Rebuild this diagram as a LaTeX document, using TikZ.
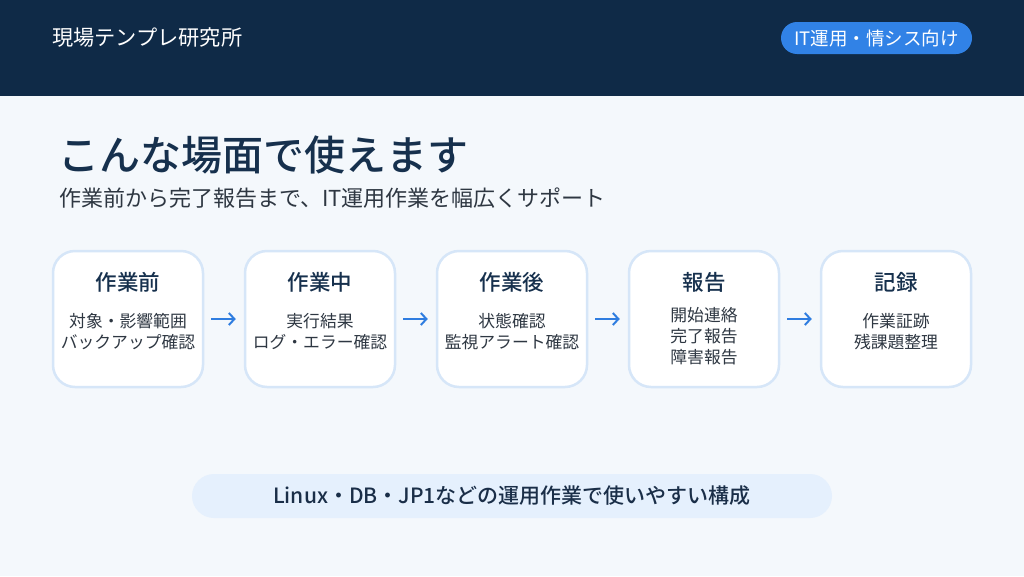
\documentclass[tikz,border=0pt]{standalone}
\usepackage{fontspec}
\setmainfont{Noto Sans CJK JP}
\newfontfamily\jpmed{Noto Sans CJK JP Medium}
\usetikzlibrary{arrows.meta}
\definecolor{navy}{HTML}{0F2A47}
\definecolor{bgc}{HTML}{F4F8FC}
\definecolor{badgec}{HTML}{3182E6}
\definecolor{titlec}{HTML}{16304D}
\definecolor{subc}{HTML}{2E3742}
\definecolor{boxline}{HTML}{D6E6F8}
\definecolor{arrc}{HTML}{2F7DE0}
\definecolor{pillc}{HTML}{E5F0FD}
\definecolor{pilltext}{HTML}{1A2E48}
\tikzset{
  stepbox/.style={draw=boxline, line width=2.5pt, fill=white, rounded corners=22pt,
    minimum width=150pt, minimum height=136pt, inner sep=0pt},
  head/.style={text=titlec, font=\fontsize{21.5}{25}\selectfont\jpmed, inner sep=0pt},
  body/.style={text=subc, font=\fontsize{16.8}{21}\selectfont, align=center, inner sep=0pt},
  arr/.style={draw=arrc, line width=2pt, -{Straight Barb[length=5.5pt,width=12pt]}, shorten <=7pt, shorten >=8pt},
}
\begin{document}
\begin{tikzpicture}[x=1pt,y=-1pt]
\useasboundingbox (0,0) rectangle (1024,576);
\fill[bgc] (0,0) rectangle (1024,576);
\fill[navy] (0,0) rectangle (1024,96);
\node[anchor=west, text=white, inner sep=0pt, font=\fontsize{21.2}{24}\selectfont] (brand) at (52,37) {現場テンプレ研究所};
\node[fill=badgec, rounded corners=16pt, minimum width=191pt, minimum height=32pt, inner sep=0pt,
  text=white, font=\fontsize{18.5}{22}\selectfont] (badge) at (876.5,38) {IT運用・情シス向け};
\node[anchor=west, text=titlec, inner sep=0pt, font=\fontsize{41}{48}\selectfont\jpmed] (title) at (58,155) {こんな場面で使えます};
\node[anchor=west, text=subc, inner sep=0pt, font=\fontsize{22}{26}\selectfont] (sub) at (59,198) {作業前から完了報告まで、IT運用作業を幅広くサポート};
\node[stepbox] (b1) at (128,319) {};
\node[stepbox] (b2) at (320,319) {};
\node[stepbox] (b3) at (512,319) {};
\node[stepbox] (b4) at (704,319) {};
\node[stepbox] (b5) at (896,319) {};
\node[head] (h1) at (128,282) {作業前};
\node[head] (h2) at (320,282) {作業中};
\node[head] (h3) at (512,282) {作業後};
\node[head] (h4) at (704,282) {報告};
\node[head] (h5) at (896,282) {記録};
\node[body] (t1) at (128,332) {対象・影響範囲\\バックアップ確認};
\node[body] (t2) at (320,332) {実行結果\\ログ・エラー確認};
\node[body] (t3) at (512,332) {状態確認\\監視アラート確認};
\node[body] (t4) at (704,336) {開始連絡\\完了報告\\障害報告};
\node[body] (t5) at (896,332) {作業証跡\\残課題整理};
\draw[arr] (b1) -- (b2);
\draw[arr] (b2) -- (b3);
\draw[arr] (b3) -- (b4);
\draw[arr] (b4) -- (b5);
\node[fill=pillc, rounded corners=22pt, minimum width=640pt, minimum height=44pt, inner sep=0pt,
  text=pilltext, font=\fontsize{21}{24}\selectfont\jpmed] (pill) at (512,496) {Linux・DB・JP1などの運用作業で使いやすい構成};
\end{tikzpicture}
\end{document}
